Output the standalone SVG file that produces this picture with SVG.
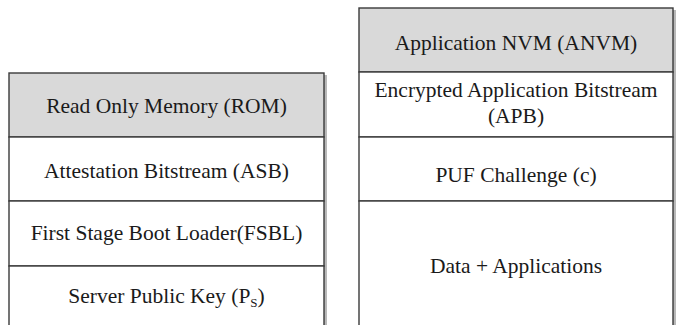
<svg xmlns="http://www.w3.org/2000/svg" width="677" height="325" viewBox="0 0 677 325">
<style>
.shadow{fill:#b8b8b8;}
.hdr{fill:#d9d9d9;stroke:#3a3a3a;stroke-width:1.4;}
.cell{fill:#ffffff;stroke:#3a3a3a;stroke-width:1.4;}
.t{font-family:'Liberation Serif','Tinos','DejaVu Serif',serif;font-size:21.5px;fill:#1a1a1a;text-anchor:middle;}
</style>
<rect x="0" y="0" width="677" height="325" fill="#ffffff"/>
<g id="rom">
<rect class="shadow" x="11" y="75" width="316" height="260"/>
<rect class="hdr" x="9" y="73" width="315" height="64"/>
<text class="t" x="166.5" y="113" font-family="Liberation Serif, serif">Read Only Memory (ROM)</text>
</g>
<g id="asb">
<rect class="cell" x="9" y="137" width="315" height="64"/>
<text class="t" x="166.5" y="178">Attestation Bitstream  (ASB)</text>
</g>
<g id="fsbl">
<rect class="cell" x="9" y="201" width="315" height="65"/>
<text class="t" x="166.5" y="240">First Stage Boot Loader(FSBL)</text>
</g>
<g id="serverkey">
<rect class="cell" x="9" y="266" width="315" height="70"/>
<text class="t" x="166.5" y="303">Server Public Key (P<tspan font-size="13" dy="4">S</tspan><tspan dy="-4">)</tspan></text>
</g>
<g id="anvm">
<rect class="shadow" x="361" y="10" width="315" height="325"/>
<rect class="hdr" x="359" y="8" width="314" height="64"/>
<text class="t" x="516" y="50">Application NVM (ANVM)</text>
</g>
<g id="apb">
<rect class="cell" x="359" y="72" width="314" height="65"/>
<text class="t" x="516" y="97">Encrypted Application Bitstream</text>
<text class="t" x="516" y="123">(APB)</text>
</g>
<g id="puf">
<rect class="cell" x="359" y="137" width="314" height="64"/>
<text class="t" x="516" y="182">PUF Challenge (c)</text>
</g>
<g id="data">
<rect class="cell" x="359" y="201" width="314" height="135"/>
<text class="t" x="516" y="273">Data + Applications</text>
</g>
<g id="connectors"></g>
</svg>
